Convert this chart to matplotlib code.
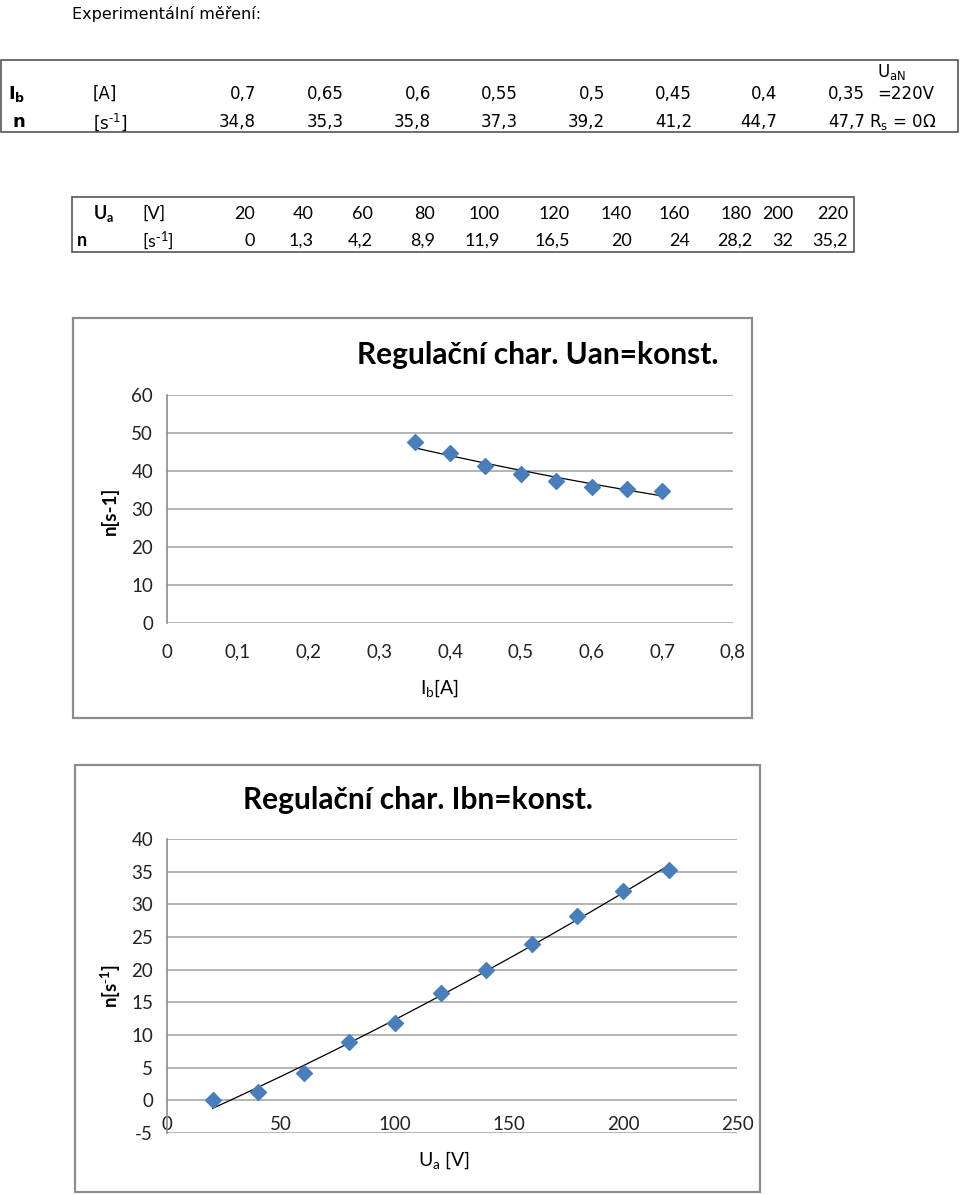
import numpy as np
import matplotlib
matplotlib.use("Agg")
import matplotlib.pyplot as plt
from matplotlib.patches import Rectangle
from matplotlib.ticker import FuncFormatter

plt.rcParams["axes.unicode_minus"] = False

# Data - table 1 (Uan = konst.)
ib = [0.7, 0.65, 0.6, 0.55, 0.5, 0.45, 0.4, 0.35]
n_ib = [34.8, 35.3, 35.8, 37.3, 39.2, 41.2, 44.7, 47.7]
ib_labels = ["0,7", "0,65", "0,6", "0,55", "0,5", "0,45", "0,4", "0,35"]
n_ib_labels = ["34,8", "35,3", "35,8", "37,3", "39,2", "41,2", "44,7", "47,7"]

# Data - table 2 (Ibn = konst.)
ua = [20, 40, 60, 80, 100, 120, 140, 160, 180, 200, 220]
n_ua = [0, 1.3, 4.2, 8.9, 11.9, 16.5, 20, 24, 28.2, 32, 35.2]
ua_labels = ["20", "40", "60", "80", "100", "120", "140", "160", "180", "200", "220"]
n_ua_labels = ["0", "1,3", "4,2", "8,9", "11,9", "16,5", "20", "24", "28,2", "32", "35,2"]

W, H = 960, 1195
fig = plt.figure(figsize=(W / 100, H / 100), dpi=100)

TFONT = "DejaVu Sans"
CFONT = "Lato"
BLUE = "#4a7ebb"


def fx(x):
    return x / W


def fy(y):
    return 1 - y / H


def txt(x, y, s, **kw):
    kw.setdefault("va", "center")
    fig.text(fx(x), fy(y), s, **kw)


def box(x0, y0, x1, y1, color="#555555", lw=1.2):
    fig.patches.append(Rectangle((fx(x0), fy(y1)), fx(x1) - fx(x0), fy(y0) - fy(y1),
                                 transform=fig.transFigure, fill=False,
                                 edgecolor=color, lw=lw))


# heading
txt(72, 14, "Experimentální měření:", family=TFONT, fontsize=11.5)

# table 1
box(1, 60, 958, 132)
r1, r2 = 94, 122
fs1 = 12
txt(8, r1, r"$\mathregular{I_b}$", family=TFONT, fontsize=13, weight="bold")
txt(93, r1, "[A]", family=TFONT, fontsize=fs1)
txt(13, r2, "n", family=TFONT, fontsize=13, weight="bold")
txt(93, r2, r"[s$\mathregular{^{\text{-}1}}$]", family=TFONT, fontsize=fs1)
t1_right = [256, 344, 431, 518, 605, 692, 777, 865]
for xr, a, b in zip(t1_right, ib_labels, n_ib_labels):
    txt(xr, r1, a, family=TFONT, fontsize=fs1, ha="right")
    txt(xr, r2, b, family=TFONT, fontsize=fs1, ha="right")
txt(877, 72, r"$\mathregular{U_{aN}}$", family=TFONT, fontsize=fs1)
txt(877, r1, "=220V", family=TFONT, fontsize=fs1)
txt(869, r2, r"$\mathregular{R_s}$ = 0Ω", family=TFONT, fontsize=fs1)

# table 2
box(72, 197, 854, 252)
s1, s2 = 214, 241
fs2 = 13
txt(93, s1, r"$\mathregular{U_a}$", family=CFONT, fontsize=fs2, weight="bold")
txt(142, s1, "[V]", family=CFONT, fontsize=fs2)
txt(77, s2, "n", family=CFONT, fontsize=fs2, weight="bold")
txt(142, s2, r"[s$\mathregular{^{\text{-}1}}$]", family=CFONT, fontsize=fs2)
t2_right = [255, 314, 373, 435, 500, 570, 632, 690, 752, 793, 848]
for xr, a, b in zip(t2_right, ua_labels, n_ua_labels):
    txt(xr, s1, a, family=CFONT, fontsize=fs2, ha="right")
    txt(xr, s2, b, family=CFONT, fontsize=fs2, ha="right")


def comma(v, pos):
    return f"{v:g}".replace(".", ",")


def chart(frame, area, x, y, xlim, ylim, yticks, xticks, title, title_xy,
          ylabel, ylabel_xy, xlabel, xlabel_xy, xpad, fit):
    box(*frame, color="#8c8c8c", lw=1.6)
    x0, y0, x1, y1 = area
    ax = fig.add_axes([fx(x0), fy(y1), fx(x1) - fx(x0), fy(y0) - fy(y1)])
    ax.set_xlim(*xlim)
    ax.set_ylim(*ylim)
    ax.set_yticks(yticks)
    ax.set_xticks(xticks)
    ax.xaxis.set_major_formatter(FuncFormatter(comma))
    ax.grid(axis="y", color="#b3b3b3", lw=1.4)
    ax.set_axisbelow(True)
    for s in ["top", "right", "bottom"]:
        ax.spines[s].set_visible(False)
    ax.spines["left"].set_color("#8c8c8c")
    ax.spines["left"].set_linewidth(1.2)
    ax.tick_params(length=0, labelsize=13.5, colors="#222222")
    ax.tick_params(axis="y", pad=10)
    ax.tick_params(axis="x", pad=xpad)
    for lab in ax.get_xticklabels() + ax.get_yticklabels():
        lab.set_family(CFONT)
    # trend line like the spreadsheet one
    xs = np.linspace(min(x), max(x), 100)
    if fit == "exp":
        c = np.polyfit(x, np.log(y), 1)
        ys = np.exp(np.polyval(c, xs))
    else:
        c = np.polyfit(x, y, 2)
        ys = np.polyval(c, xs)
    ax.plot(xs, ys, color="black", lw=0.9, zorder=2)
    ax.scatter(x, y, marker="D", s=65, color=BLUE, zorder=3, clip_on=False)
    txt(title_xy[0], title_xy[1], title, family=CFONT, fontsize=21.5, weight="bold", ha="center")
    txt(ylabel_xy[0], ylabel_xy[1], ylabel, family=CFONT, fontsize=13.5, weight="bold",
        ha="center", rotation=90)
    txt(xlabel_xy[0], xlabel_xy[1], xlabel, family=CFONT, fontsize=14, ha="center")
    return ax


chart((73, 318, 752, 718), (167, 395, 733, 623), ib, n_ib, (0, 0.8), (0, 60),
      np.arange(0, 61, 10), np.arange(0, 0.81, 0.1),
      "Regulační char. Uan=konst.", (538, 355),
      "n[s-1]", (110, 511), r"$\mathregular{I_b[A]}$", (440, 688), 15, "exp")

chart((75, 765, 760, 1192), (167, 839, 737, 1133), ua, n_ua, (0, 250), (-5, 40),
      np.arange(-5, 41, 5), np.arange(0, 251, 50),
      "Regulační char. Ibn=konst.", (418, 800),
      r"$\mathregular{n[s^{\text{-}1}]}$", (111, 986), r"$\mathregular{U_a}$ [V]", (444, 1160),
      -12, "poly")

fig.savefig("out.png", dpi=100)
